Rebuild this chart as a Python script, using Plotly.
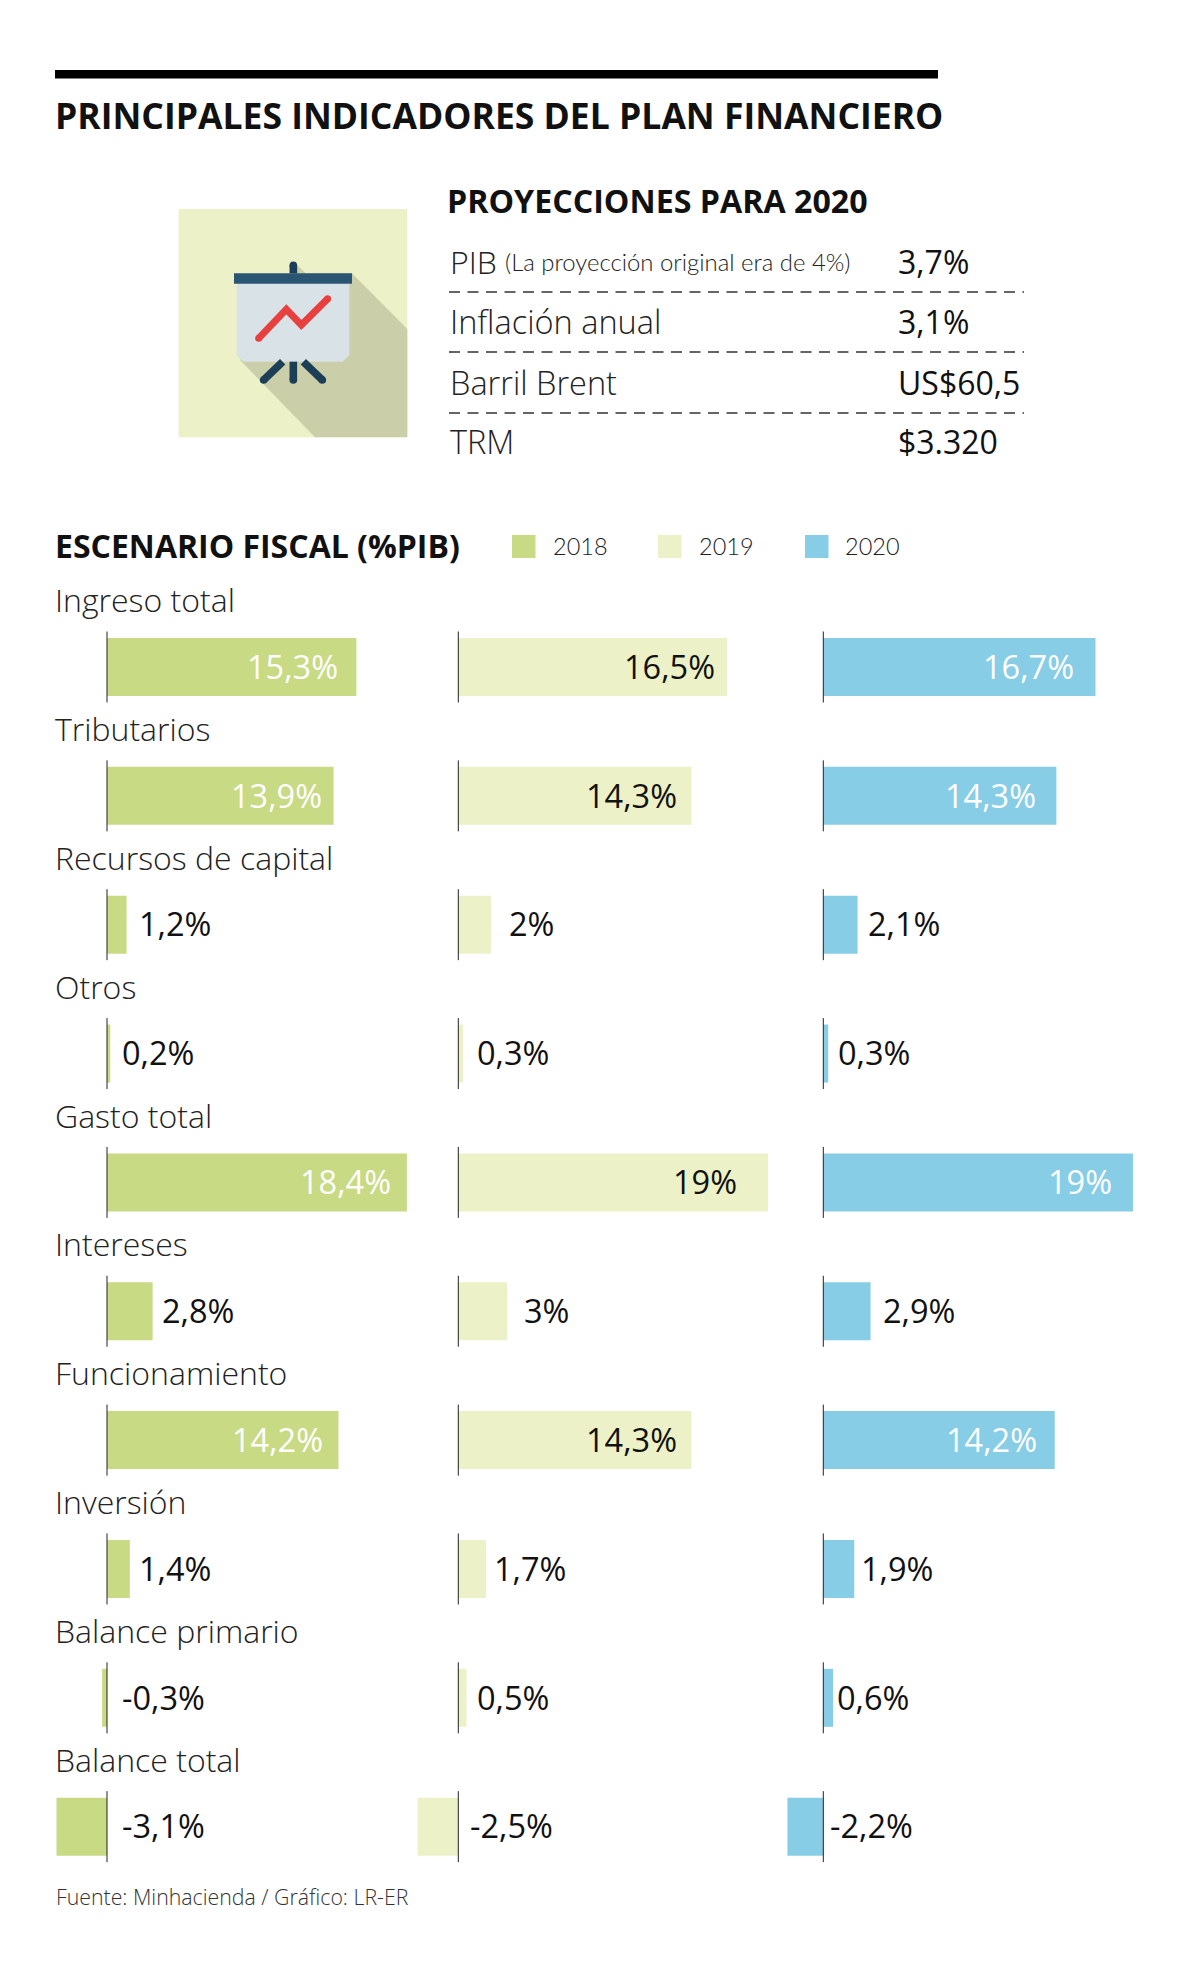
import plotly.graph_objects as go

# ---------- data ----------
categories = ["Ingreso total", "Tributarios", "Recursos de capital", "Otros", "Gasto total",
              "Intereses", "Funcionamiento", "Inversión", "Balance primario", "Balance total"]
years = ["2018", "2019", "2020"]
values_2018 = [15.3, 13.9, 1.2, 0.2, 18.4, 2.8, 14.2, 1.4, -0.3, -3.1]
values_2019 = [16.5, 14.3, 2.0, 0.3, 19.0, 3.0, 14.3, 1.7, 0.5, -2.5]
values_2020 = [16.7, 14.3, 2.1, 0.3, 19.0, 2.9, 14.2, 1.9, 0.6, -2.2]
labels_2018 = ["15,3%", "13,9%", "1,2%", "0,2%", "18,4%", "2,8%", "14,2%", "1,4%", "-0,3%", "-3,1%"]
labels_2019 = ["16,5%", "14,3%", "2%", "0,3%", "19%", "3%", "14,3%", "1,7%", "0,5%", "-2,5%"]
labels_2020 = ["16,7%", "14,3%", "2,1%", "0,3%", "19%", "2,9%", "14,2%", "1,9%", "0,6%", "-2,2%"]
proj_names = ["Inflación anual", "Barril Brent", "TRM"]
proj_values = ["3,7%", "3,1%", "US$60,5", "$3.320"]

# ---------- layout constants (pixels) ----------
W, H = 1200, 1981
FONT = "Open Sans"
NARROW = "Lato"
ZERO = [107.0, 458.3, 823.3]
PX_PER_UNIT = 16.3
DOMAINS = [(50, 440), (410, 800), (785, 1190)]
ROW0, PITCH = 667.0, 128.85
BAR_H, AXIS_H = 58.0, 71.0
COLORS = ["#c8da84", "#edf1c7", "#87cde6"]
INK = "#111111"
GAPS = [
    [-16.5, -9.5, 10.2, 9.7, -13.5, 7.1, -13.5, 6.9, 13.2, 13.2],
    [-10.5, -12.5, 16.2, 12.2, -29, 15.2, -12.5, 5.7, 8.7, 9.7],
    [-19.5, -18, 8.7, 7.7, -19, 10.7, -16, 5.2, 2.2, 4.7],
]
INK_LABEL = ["white", "#111111", "white"]


def px(x):
    return x / W


def py(y):
    return 1 - y / H


def path(points, close=True):
    s = "M " + " L ".join(f"{px(x):.5f},{py(y):.5f}" for x, y in points)
    return s + (" Z" if close else "")


fig = go.Figure()
shapes, notes = [], []
series = [values_2018, values_2019, values_2020]
texts = [labels_2018, labels_2019, labels_2020]

axis_cfg = {}
for c, (vals, name) in enumerate(zip(series, years)):
    xn = "x" if c == 0 else f"x{c+1}"
    key = "xaxis" if c == 0 else f"xaxis{c+1}"
    fig.add_trace(go.Bar(x=vals, y=list(range(len(categories))), orientation="h", name=name,
                         xaxis=xn, yaxis="y", width=BAR_H / PITCH,
                         marker=dict(color=COLORS[c], line_width=0),
                         customdata=categories, showlegend=False,
                         hovertemplate="%{customdata}: %{x}%<extra>" + name + "</extra>"))
    d0, d1 = DOMAINS[c]
    axis_cfg[key] = dict(domain=[d0 / W, d1 / W],
                         range=[(d0 - ZERO[c]) / PX_PER_UNIT, (d1 - ZERO[c]) / PX_PER_UNIT],
                         visible=False, anchor="y", fixedrange=True)
    for i, v in enumerate(vals):
        shapes.append(dict(type="line", xref=xn, yref="y", x0=0, x1=0,
                           y0=i - AXIS_H / PITCH / 2, y1=i + AXIS_H / PITCH / 2,
                           line=dict(color="#222222", width=1), layer="above"))
        gap = GAPS[c][i]
        inside = gap < 0
        notes.append(dict(xref=xn, yref="y", x=max(v, 0), y=i, xshift=gap, yshift=0.8,
                          xanchor="right" if inside else "left", yanchor="middle",
                          text=texts[c][i], showarrow=False,
                          font=dict(family=FONT, size=32.5,
                                    color=INK_LABEL[c] if inside else INK)))

# row titles
for i, name in enumerate(categories):
    notes.append(dict(xref="paper", yref="y", x=px(53), y=i - 0.495, yshift=3.5, xanchor="left", yanchor="middle",
                      text=name, showarrow=False,
                      font=dict(family=FONT, size=32, color="#222222", weight=300)))


def text_px(x, y, s, size, bold=False, family=FONT, anchor="left", color=INK, weight=None):
    f = dict(family=family, size=size, color=color)
    if bold:
        f["weight"] = 700
    elif weight:
        f["weight"] = weight
    notes.append(dict(xref="paper", yref="paper", x=px(x), y=py(y), xanchor=anchor, yanchor="middle",
                      text=s, showarrow=False, font=f))


def rect_px(x0, y0, x1, y1, color, layer="above"):
    shapes.append(dict(type="rect", xref="paper", yref="paper", x0=px(x0), x1=px(x1),
                       y0=py(y0), y1=py(y1), fillcolor=color, line_width=0, layer=layer))


# header
rect_px(55, 70, 938, 78.5, "#000000")
text_px(53, 115, "PRINCIPALES INDICADORES DEL PLAN FINANCIERO", 35.5, bold=True)

# projections block
text_px(445, 201, "PROYECCIONES PARA 2020", 32.2, bold=True)
rows_y = [261, 321, 382, 442]
text_px(448, rows_y[0], "PIB", 32, weight=300, color="#222222")
text_px(503, rows_y[0], "(La proyección original era de 4%)", 23.9, family=NARROW, color="#222222", weight=300)
for yy, name in zip(rows_y[1:], proj_names):
    text_px(448, yy, name, 32.5, weight=300, color="#222222")
for yy, val in zip(rows_y, proj_values):
    text_px(896, yy, val, 32)
for yy in (292, 352, 413):
    shapes.append(dict(type="line", xref="paper", yref="paper", x0=px(449), x1=px(1024),
                       y0=py(yy), y1=py(yy), line=dict(color="#333333", width=1.3, dash="11px,7.5px")))

# legend
text_px(53, 546, "ESCENARIO FISCAL (%PIB)", 32, bold=True)
for sx, tx, col, yr in zip((512, 658, 805), (551, 697, 843), COLORS, years):
    rect_px(sx, 535, sx + 23.5, 558, col)
    text_px(tx, 546.5, yr, 23.5, family=NARROW, color="#222222", weight=300)

# source
text_px(53.5, 1896, "Fuente: Minhacienda / Gráfico: LR-ER", 21.3, color="#333333", weight=300)


# icon
def zx(v):
    return v / 3 + 160


def zy(v):
    return v / 3 + 190


def z(points):
    return [(zx(a), zy(b)) for a, b in points]


def poly(points, color, close=True, width=0):
    d = dict(type="path", xref="paper", yref="paper", path=path(z(points), close), layer="above")
    if close:
        d.update(fillcolor=color, line_width=0)
    else:
        d.update(line=dict(color=color, width=width))
    shapes.append(d)


def dot(a, b, r, color):
    shapes.append(dict(type="circle", xref="paper", yref="paper", x0=px(zx(a - r)), x1=px(zx(a + r)),
                       y0=py(zy(b - r)), y1=py(zy(b + r)), fillcolor=color, line_width=0, layer="above"))


poly([(56, 57), (742, 57), (742, 742), (56, 742)], "#edf1c7")
poly([(411, 225), (437, 250), (576, 250), (742, 417), (742, 742), (465, 742), (240, 510), (300, 400)], "#cbcfa9")
poly([(230, 280), (568, 280), (568, 495), (548, 515), (250, 515), (230, 495)], "#d9e2e7")
for a, b, c_, d_ in [(400, 226, 400, 250), (400, 515, 400, 570), (368, 515, 311, 570), (430, 515, 487, 570)]:
    poly([(a, b), (c_, d_)], "#1c3e57", close=False, width=7.6)
    dot(c_ if b == 515 else a, d_ if b == 515 else b, 11.5, "#1c3e57")
poly([(222, 250), (576, 250), (576, 281), (222, 281)], "#2b5673")
poly([(296, 445), (379, 358), (424, 405), (503, 326)], "#e8403f", close=False, width=7)
dot(296, 445, 10.5, "#e8403f")
dot(503, 326, 10.5, "#e8403f")

fig.update_layout(
    width=W, height=H, margin=dict(l=0, r=0, t=0, b=0),
    paper_bgcolor="white", plot_bgcolor="rgba(0,0,0,0)",
    barmode="overlay", showlegend=False, shapes=shapes, annotations=notes,
    yaxis=dict(domain=[0, 1], visible=False, fixedrange=True,
               range=[(H - ROW0) / PITCH, (0 - ROW0) / PITCH]),
    **axis_cfg,
)
fig.write_html("out.html", config={"displayModeBar": False},
               post_script="document.body.style.margin='0';document.body.style.overflow='hidden';")
